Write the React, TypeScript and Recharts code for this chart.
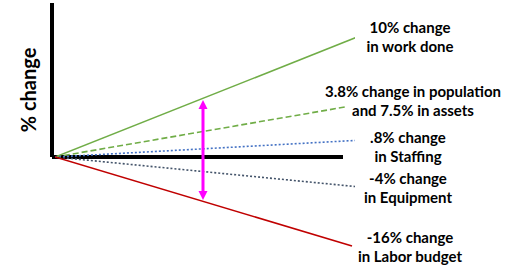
import { LineChart, Line, XAxis, YAxis, ReferenceLine } from 'recharts';

// end point of each trend line (origin is 0,0)
const seriesNames = ['work', 'population', 'staffing', 'equipment', 'labor'];
const endX = [305, 290, 308, 305, 297];
const endY = [121, 50, 17, -30, -89];
const labels = [
  ['10% change', 'in work done'],
  ['3.8% change in population', 'and 7.5% in assets'],
  ['.8% change', 'in Staffing'],
  ['-4% change', 'in Equipment'],
  ['-16% change', 'in Labor budget'],
];
const colors = ['#70AD47', '#70AD47', '#4472C4', '#44546A', '#C00000'];
const dashes = ['', '6 3', '2 2', '2 2', ''];
// label placement relative to the line end: dx, dy of first line
const labelOffsets = [
  [50, -9],
  [68, -16],
  [45, -3],
  [48, -9],
  [58, -9],
];
const arrowX = 148;
const arrowRange = [57, -43];

const font = 'Lato, "Open Sans", sans-serif';

const ArrowShape = (p: any) => {
  const { x1, y1, x2, y2 } = p;
  const top = Math.min(y1, y2);
  const bot = Math.max(y1, y2);
  return (
    <g>
      <line x1={x1} y1={top + 6} x2={x2} y2={bot - 6} stroke="#FF00FF" strokeWidth={3} />
      <polygon points={`${x1},${top} ${x1 - 4.5},${top + 9} ${x1 + 4.5},${top + 9}`} fill="#FF00FF" />
      <polygon points={`${x1},${bot} ${x1 - 4.5},${bot - 9} ${x1 + 4.5},${bot - 9}`} fill="#FF00FF" />
    </g>
  );
};

export default function App() {
  return (
    <div style={{ position: 'absolute', left: 0, top: 0, width: 518, height: 266, background: '#fff' }}>
      <LineChart width={518} height={266} margin={{ top: 5, right: 163, bottom: 16, left: 55 }}>
        <XAxis type="number" dataKey="x" domain={[0, 300]} hide allowDataOverflow />
        <YAxis type="number" domain={[-93, 152]} hide allowDataOverflow />
        <ReferenceLine
          segment={[{ x: -3, y: 0 }, { x: -3, y: 154 }]}
          stroke="#000"
          strokeWidth={4}
          ifOverflow="visible"
        />
        <ReferenceLine
          segment={[{ x: -3, y: 0 }, { x: 288, y: 0 }]}
          stroke="#000"
          strokeWidth={4}
          ifOverflow="visible"
        />
        {seriesNames.map((name, i) => (
          <Line
            key={name}
            data={[{ x: 0, y: 0 }, { x: endX[i], y: endY[i] }]}
            dataKey="y"
            stroke={colors[i]}
            strokeWidth={1.6}
            strokeDasharray={dashes[i] || undefined}
            dot={false}
            isAnimationActive={false}
            label={(props: any) =>
              props.index === 1 ? (
                <text
                  key={name + '-lbl'}
                  x={props.x + labelOffsets[i][0]}
                  y={props.y + labelOffsets[i][1]}
                  textAnchor="middle"
                  dominantBaseline="central"
                  fontFamily={font}
                  fontWeight={700}
                  fontSize={15}
                  fill="#000"
                >
                  <tspan x={props.x + labelOffsets[i][0]}>{labels[i][0]}</tspan>
                  <tspan x={props.x + labelOffsets[i][0]} dy={18.5}>
                    {labels[i][1]}
                  </tspan>
                </text>
              ) : (
                <g key={name + '-none'} />
              )
            }
          />
        ))}
        <ReferenceLine
          segment={[{ x: arrowX, y: arrowRange[0] }, { x: arrowX, y: arrowRange[1] }]}
          shape={ArrowShape}
          ifOverflow="visible"
        />
      </LineChart>
      <div
        style={{
          position: 'absolute',
          left: 28,
          top: 90,
          transform: 'translate(-50%, -50%) rotate(-90deg)',
          fontFamily: font,
          fontWeight: 700,
          fontSize: 20,
          whiteSpace: 'nowrap',
          color: '#000',
        }}
      >
        % change
      </div>
    </div>
  );
}
